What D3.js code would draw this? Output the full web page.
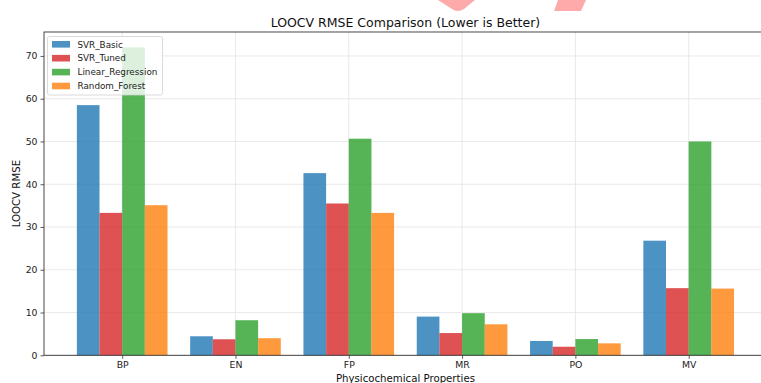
<!DOCTYPE html>
<html>
<head>
<meta charset="utf-8">
<script src="https://cdn.jsdelivr.net/npm/d3@7"></script>
<style>
  html, body { margin: 0; padding: 0; background: #fff; }
  svg { display: block; font-family: "DejaVu Sans", sans-serif; }
</style>
</head>
<body>
<svg id="chart" width="761" height="383"></svg>
<script>
// Physicochemical properties on the x axis
const categories = ["BP", "EN", "FP", "MR", "PO", "MV"];

// LOOCV RMSE per model
const svrBasic = [58.5, 4.45, 42.6, 9.05, 3.35, 26.8];
const svrTuned = [33.3, 3.75, 35.5, 5.2, 2.0, 15.7];
const linearRegression = [72.0, 8.2, 50.65, 9.85, 3.8, 50.0];
const randomForest = [35.1, 4.0, 33.3, 7.25, 2.8, 15.6];

const seriesNames = ["SVR_Basic", "SVR_Tuned", "Linear_Regression", "Random_Forest"];
const seriesValues = [svrBasic, svrTuned, linearRegression, randomForest];
const seriesColors = ["#1f77b4", "#d62728", "#2ca02c", "#ff7f0e"];

const yTicks = [0, 10, 20, 30, 40, 50, 60, 70];

const svg = d3.select("#chart");

const plot = { left: 44, top: 32, bottom: 355.3 };
const barWidth = 0.2;

// x in category-index units, padded like a default bar layout
const xMin = -0.4 - 0.05 * (categories.length - 1 + 0.8);
const xMax = categories.length - 1 + 0.4 + 0.05 * (categories.length - 1 + 0.8);
const x = d3.scaleLinear().domain([xMin, xMax]).range([plot.left, plot.left + 113.3 * (xMax - xMin)]);
const plotRight = x(xMax);

const yMaxData = d3.max(seriesValues.flat());
const y = d3.scaleLinear().domain([0, yMaxData * 1.05]).range([plot.bottom, plot.top]);

// decorative pink strokes at the top
const deco = svg.append("g").attr("fill", "#ffaaaa");
deco.append("path").attr("d", "M438,0 L475,0 L464,9 Q458,13 452,9 Z");
deco.append("path").attr("d", "M558,0 L586,0 L581,11 L554,11 Z");

// grid
const grid = svg.append("g").attr("stroke", "#e6e6e6").attr("stroke-width", 0.9);
grid.selectAll("line.h").data(yTicks).join("line")
  .attr("x1", plot.left).attr("x2", plotRight)
  .attr("y1", d => y(d)).attr("y2", d => y(d));
grid.selectAll("line.v").data(categories).join("line")
  .attr("x1", (d, i) => x(i)).attr("x2", (d, i) => x(i))
  .attr("y1", plot.top).attr("y2", plot.bottom);

// bars
seriesValues.forEach((vals, s) => {
  const offset = (s - 1.5) * barWidth;
  svg.append("g")
    .attr("fill", seriesColors[s])
    .attr("fill-opacity", 0.8)
    .selectAll("rect").data(vals).join("rect")
    .attr("x", (d, i) => x(i + offset - barWidth / 2))
    .attr("width", x(barWidth) - x(0))
    .attr("y", d => y(d))
    .attr("height", d => y(0) - y(d));
});

// axes
const xAxis = d3.axisBottom(x)
  .tickValues(d3.range(categories.length))
  .tickFormat(i => categories[i])
  .tickSize(3.5).tickPadding(3);
const gx = svg.append("g").attr("transform", `translate(0,${plot.bottom})`).call(xAxis);
gx.select(".domain").remove();

const yAxis = d3.axisLeft(y).tickValues(yTicks).tickSize(3.5).tickPadding(3);
const gy = svg.append("g").attr("transform", `translate(${plot.left},0)`).call(yAxis);
gy.select(".domain").remove();

[gx, gy].forEach(g => {
  g.selectAll("text").attr("font-size", 9.3).attr("fill", "#222").attr("font-family", "DejaVu Sans");
  g.selectAll(".tick line").attr("stroke", "#333").attr("stroke-width", 0.8);
});

// frame
svg.append("rect")
  .attr("x", plot.left).attr("y", plot.top)
  .attr("width", plotRight - plot.left).attr("height", plot.bottom - plot.top)
  .attr("fill", "none").attr("stroke", "#333").attr("stroke-width", 0.9);

// titles
svg.append("text")
  .attr("x", (plot.left + plotRight) / 2).attr("y", 27)
  .attr("text-anchor", "middle").attr("font-size", 12.5).attr("fill", "#111")
  .text("LOOCV RMSE Comparison (Lower is Better)");

svg.append("text")
  .attr("transform", `translate(20,${(plot.top + plot.bottom) / 2}) rotate(-90)`)
  .attr("text-anchor", "middle").attr("font-size", 10.2).attr("fill", "#111")
  .text("LOOCV RMSE");

svg.append("text")
  .attr("x", (plot.left + plotRight) / 2).attr("y", 382)
  .attr("text-anchor", "middle").attr("font-size", 10.2).attr("fill", "#111")
  .text("Physicochemical Properties");

// legend
const legend = svg.append("g").attr("transform", "translate(47.5,36.5)");
legend.append("rect")
  .attr("width", 115).attr("height", 58.5).attr("rx", 2)
  .attr("fill", "#fff").attr("fill-opacity", 0.8)
  .attr("stroke", "#d0d0d0").attr("stroke-width", 0.8);
const items = legend.selectAll("g.item").data(seriesNames).join("g")
  .attr("transform", (d, i) => `translate(4.5,${7.8 + i * 13.9})`);
items.append("rect")
  .attr("x", 0).attr("y", -3.3).attr("width", 18).attr("height", 6.6)
  .attr("fill", (d, i) => seriesColors[i]).attr("fill-opacity", 0.8);
items.append("text")
  .attr("x", 25.5).attr("y", 3.2)
  .attr("font-size", 8.8).attr("fill", "#222")
  .text(d => d);
</script>
</body>
</html>
